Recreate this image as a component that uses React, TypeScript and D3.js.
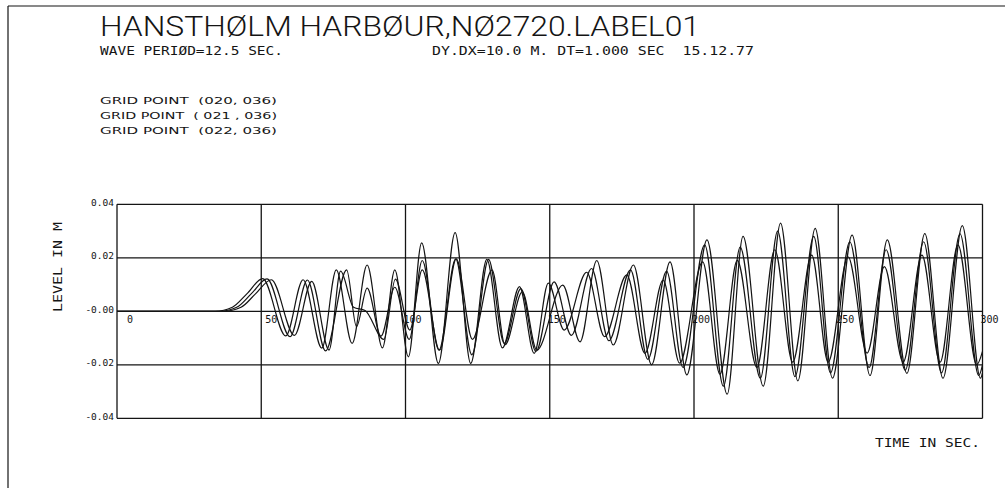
import React from 'react';
import * as d3 from 'd3';

const timeTicks = [0, 50, 100, 150, 200, 250, 300];
const timeTickLabels = ['0', '50', '100', '150', '200', '250', '300'];
const levelTicks = [0.04, 0.02, 0, -0.02, -0.04];
const levelTickLabels = ['0.04', '0.02', '-0.00', '-0.02', '-0.04'];
const gridPointLabels = ['GRID POINT  (020, 036)', 'GRID POINT  ( 021 , 036)', 'GRID POINT  (022, 036)'];

const titleText = 'HANSTHØLM HARBØUR,NØ2720.LABEL01';
const subtitleLeft = 'WAVE PERIØD=12.5 SEC.';
const subtitleRight = 'DY.DX=10.0 M. DT=1.000 SEC  15.12.77';
const yAxisTitle = 'LEVEL IN M';
const xAxisTitle = 'TIME IN SEC.';

// [time (s), level (m)] extrema
const series020: [number, number][] = [
  [0, 0], [34, 0], [40, 0.0015], [45, 0.0065], [50.5, 0.0122], [58.5, -0.0092], [64.5, 0.0118],
  [71, -0.0138], [76, 0.0155], [81.5, -0.012], [86.7, 0.0173], [92, -0.0137], [96.3, 0.0155],
  [101, -0.017], [105.6, 0.0256], [111.4, -0.0195], [117.2, 0.0294], [122.6, -0.0195],
  [128.2, 0.0194], [133.6, -0.0137], [139.5, 0.0092], [144.6, -0.0157], [149.5, 0.0105],
  [155, -0.007], [162.8, 0.0146], [169, -0.0095], [176.7, 0.0136], [183, -0.0157],
  [189.3, 0.0117], [195, -0.0194], [203, 0.0185], [209, -0.0235], [215, 0.019],
  [221.8, -0.021], [228, 0.023], [234.2, -0.019], [240.8, 0.021], [246.5, -0.019],
  [253.4, 0.0204], [260, -0.0156], [266, 0.0167], [272.5, -0.019], [279, 0.021],
  [285.3, -0.019], [291.5, 0.0248], [298, -0.02], [300, -0.015],
];

const series021: [number, number][] = [
  [0, 0], [35.5, 0], [41.5, 0.0015], [46.5, 0.0065], [52, 0.0121], [60, -0.0095], [66, 0.0117],
  [72.3, -0.0148], [79.6, 0.0155], [83, -0.0057], [86.7, 0.0087], [91.5, -0.0093], [96.3, 0.009],
  [101.3, -0.0105], [105.8, 0.019], [111.6, -0.0145], [117.4, 0.0196], [123, -0.0163],
  [128.8, 0.0194], [134.2, -0.012], [140, 0.0085], [145.2, -0.015], [151.5, 0.011],
  [157.5, -0.009], [164.5, 0.016], [170.5, -0.011], [178, 0.0155], [184, -0.018],
  [190.5, 0.015], [196.2, -0.021], [203.7, 0.0248], [210.2, -0.028], [216, 0.024],
  [223, -0.025], [229, 0.03], [235, -0.0244], [241.5, 0.028], [247.3, -0.023],
  [254, 0.026], [260.7, -0.021], [266.6, 0.023], [273.2, -0.022], [279.6, 0.026],
  [285.8, -0.023], [292.2, 0.029], [298.7, -0.024], [300, -0.02],
];

const series022: [number, number][] = [
  [0, 0], [37, 0], [43, 0.0015], [48, 0.0065], [53.5, 0.0118], [61.5, -0.009], [67.5, 0.0112],
  [73.5, -0.0145], [77.5, 0.015], [82, 0.0015], [86, 0.0003], [92.5, -0.0105], [96.5, 0.012],
  [101.5, -0.007], [105.8, 0.0155], [111.8, -0.0145], [117.6, 0.0196], [123.2, -0.0105],
  [130, 0.0155], [134.5, -0.0125], [140.5, 0.0073], [145.5, -0.0145], [154.5, 0.0098],
  [160.5, -0.0114], [166.3, 0.019], [172, -0.0126], [179, 0.0173], [185.3, -0.02],
  [191.7, 0.0185], [197.5, -0.0238], [204.5, 0.0267], [211.5, -0.031], [217, 0.028],
  [224, -0.028], [230, 0.033], [236, -0.026], [242, 0.031], [248, -0.025],
  [254.8, 0.0285], [261, -0.024], [267, 0.0267], [273.8, -0.0232], [280, 0.029],
  [286.3, -0.025], [293, 0.032], [299.3, -0.025], [300, -0.023],
];

const allSeries = [series020, series021, series022];

const W = 1005;
const H = 488;
const ink = '#141414';
const mono = '"DejaVu Sans Mono", "Liberation Mono", monospace';

export default function App() {
  const x = d3.scaleLinear().domain([0, 300]).range([117, 982.5]);
  const y = d3.scaleLinear().domain([-0.04, 0.04]).range([418.3, 204.3]);
  const line = d3
    .line<[number, number]>()
    .x((d) => x(d[0]))
    .y((d) => y(d[1]))
    .curve(d3.curveMonotoneX);

  return (
    <div style={{ position: 'absolute', left: 0, top: 0 }}>
      <svg width={W} height={H} viewBox={`0 0 ${W} ${H}`} style={{ display: 'block', background: '#fff' }}>
        <rect x={0} y={0} width={W} height={H} fill="#fff" />
        {/* page frame */}
        <line x1={8} y1={6} x2={W} y2={6} stroke={ink} strokeWidth={1.2} />
        <line x1={8} y1={6} x2={8} y2={H} stroke={ink} strokeWidth={1.2} />

        {/* header */}
        <text x={100} y={36} fontFamily='Roboto, Inter, sans-serif' fontWeight={300} fontSize={28}
          textLength={600} lengthAdjust="spacingAndGlyphs" fill={ink}>{titleText}</text>
        <text x={100} y={55} fontFamily={mono} fontSize={11.5} textLength={183}
          lengthAdjust="spacingAndGlyphs" fill={ink}>{subtitleLeft}</text>
        <text x={432} y={55} fontFamily={mono} fontSize={11.5} textLength={322}
          lengthAdjust="spacingAndGlyphs" fill={ink} style={{ whiteSpace: 'pre' }}>{subtitleRight}</text>

        {gridPointLabels.map((s, i) => (
          <text key={s} x={100} y={103.5 + i * 15} fontFamily='"DejaVu Sans", sans-serif' fontSize={9.5}
            textLength={177} lengthAdjust="spacingAndGlyphs" fill={ink} style={{ whiteSpace: 'pre' }}>{s}</text>
        ))}

        {/* grid */}
        {timeTicks.map((t) => (
          <line key={'v' + t} x1={x(t)} x2={x(t)} y1={y(0.04)} y2={y(-0.04)} stroke={ink} strokeWidth={1.3} />
        ))}
        {levelTicks.map((v) => (
          <line key={'h' + v} x1={x(0)} x2={x(300)} y1={y(v)} y2={y(v)} stroke={ink} strokeWidth={1.3} />
        ))}

        {/* tick labels */}
        {levelTicks.map((v, i) => (
          <text key={'yl' + v} x={114} y={y(v) + 1.5} textAnchor="end" fontFamily={mono} fontSize={9.5}
            fill={ink}>{levelTickLabels[i]}</text>
        ))}
        {timeTicks.map((t, i) => (
          <text key={'xl' + t} x={x(t) + 16} y={y(0) + 12} textAnchor="end" fontFamily={mono} fontSize={10}
            fill={ink}>{timeTickLabels[i]}</text>
        ))}

        {/* series */}
        {allSeries.map((s, i) => (
          <path key={i} d={line(s) || ''} fill="none" stroke={ink} strokeWidth={1.2} />
        ))}

        {/* axis titles */}
        <text transform={`translate(62,267) rotate(-90)`} textAnchor="middle" fontFamily={mono} fontSize={13}
          textLength={90} lengthAdjust="spacingAndGlyphs" fill={ink}>{yAxisTitle}</text>
        <text x={875} y={447} fontFamily={mono} fontSize={13} textLength={105}
          lengthAdjust="spacingAndGlyphs" fill={ink}>{xAxisTitle}</text>
      </svg>
    </div>
  );
}
